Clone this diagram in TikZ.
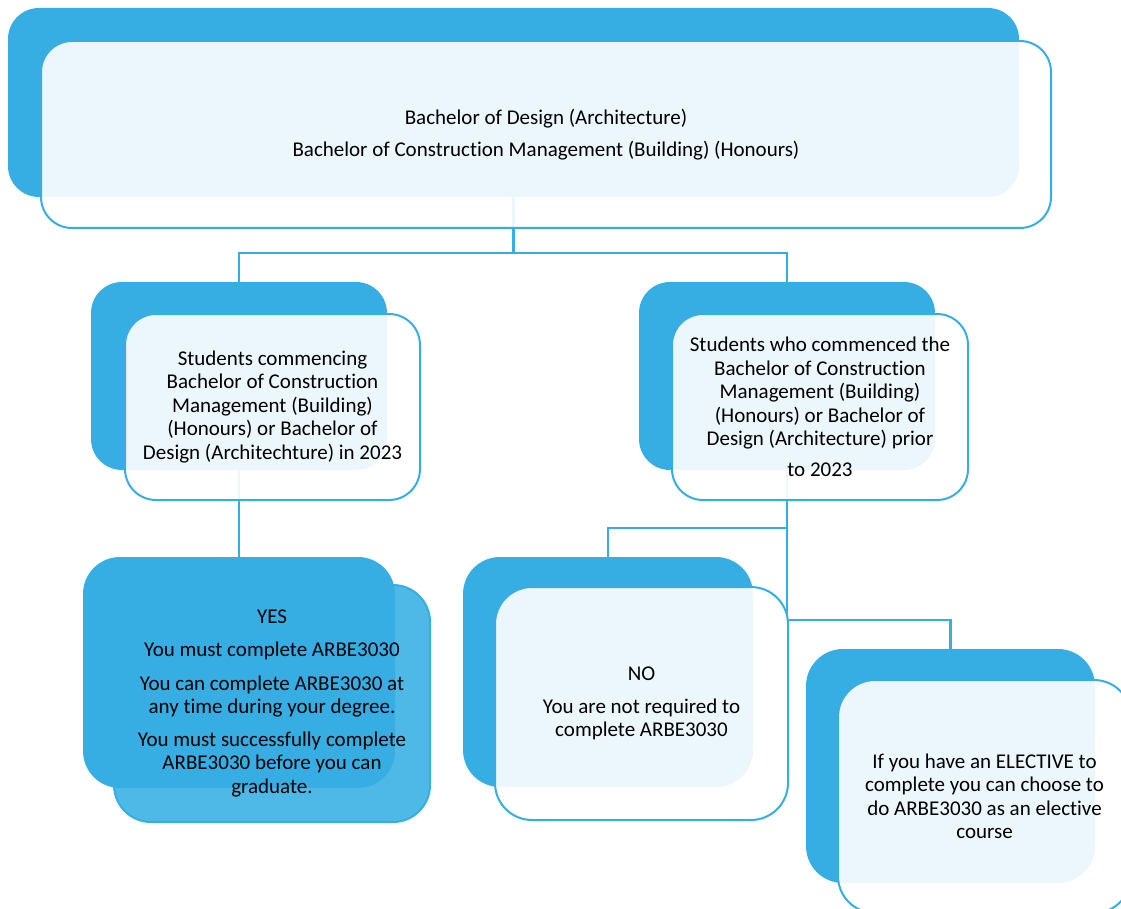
\documentclass[tikz,border=0pt]{standalone}
\usepackage{fontspec}
\setmainfont{Carlito}[Ligatures={NoCommon,TeX}]
\usetikzlibrary{backgrounds}
\definecolor{accent}{RGB}{54,174,228}
\begin{document}
\begin{tikzpicture}[x=1pt,y=-1pt,
  backbox/.style={draw=none, fill=accent, rounded corners=#1, inner sep=0pt},
  frontbox/.style={draw=accent, line width=2pt, fill=white, fill opacity=0.9, text opacity=1,
    rounded corners=#1, inner sep=0pt, align=center, font=\fontsize{21}{23.5}\selectfont},
  bluefront/.style={draw=accent, line width=2pt, fill=accent, fill opacity=0.88, text opacity=1,
    rounded corners=#1, inner sep=0pt, align=center, font=\fontsize{21}{23.5}\selectfont},
  conn/.style={draw=accent, line width=2.5pt}]
\useasboundingbox (0,0) rectangle (1121,909);
\clip (0,0) rectangle (1121,909);

% top
\node[backbox=31, minimum width=1011pt, minimum height=189pt] (topB) at (513.5,102.5) {};
\node[frontbox=31, minimum width=1010pt, minimum height=187pt] (topF) at (546,134.5)
  {Bachelor of Design (Architecture)\\[8.5pt]Bachelor of Construction Management (Building) (Honours)};

% left middle
\node[backbox=31, minimum width=296pt, minimum height=188pt] (leftB) at (239,376) {};
\node[frontbox=31, minimum width=295pt, minimum height=186pt] (leftF) at (272.5,407)
  {Students commencing\\Bachelor of Construction\\Management (Building)\\(Honours) or Bachelor of\\Design (Architechture) in 2023};

% right middle
\node[backbox=31, minimum width=296pt, minimum height=188pt] (rightB) at (787,376) {};
\node[frontbox=31, minimum width=296pt, minimum height=186pt] (rightF) at (820,407)
  {Students who commenced the\\Bachelor of Construction\\Management (Building)\\(Honours) or Bachelor of\\Design (Architecture) prior\\[7.5pt]to 2023};

% YES
\node[backbox=37, minimum width=312pt, minimum height=231pt] (yesB) at (239,672.5) {};
\node[bluefront=37, minimum width=316pt, minimum height=237pt] (yesF) at (272,703.5)
  {YES\\[9.5pt]You must complete ARBE3030\\[10pt]You can complete ARBE3030 at\\any time during your degree.\\[9pt]You must successfully complete\\ARBE3030 before you can\\graduate.};

% NO
\node[backbox=37, minimum width=290pt, minimum height=230pt] (noB) at (608,672) {};
\node[frontbox=37, minimum width=293pt, minimum height=233pt] (noF) at (641.5,703.5)
  {NO\\[9.5pt]You are not required to\\complete ARBE3030};

% ELECTIVE
\node[backbox=37, minimum width=289pt, minimum height=234pt] (elecB) at (950.5,766) {};
\node[frontbox=37, minimum width=293pt, minimum height=233pt] (elecF) at (984.5,796.5)
  {If you have an ELECTIVE to\\complete you can choose to\\do ARBE3030 as an elective\\course};

\coordinate (j1) at (513.5,253);
\coordinate (j3) at (787,528);
\coordinate (j2) at (787,620);

\begin{pgfonlayer}{background}
  \draw[conn] (topB.center) -- (j1) -| (leftB.north);
  \draw[conn] (j1) -| (rightB.north);
  \draw[conn] (leftB.center) -- (yesB.north);
  \draw[conn] (rightB.center) -- (j2) -| (elecB.north);
  \draw[conn] (j3) -| (noB.north);
\end{pgfonlayer}
\end{tikzpicture}
\end{document}
